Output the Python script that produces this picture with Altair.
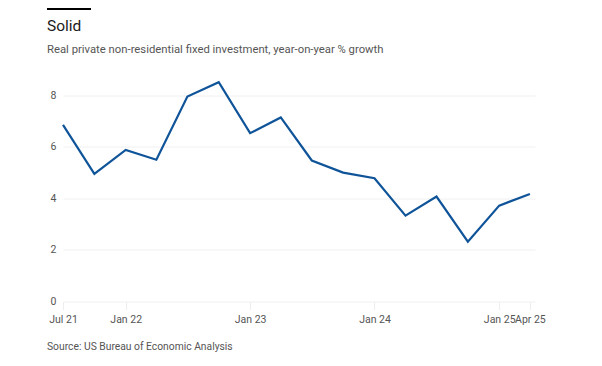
import altair as alt
import pandas as pd

# Quarterly data: Jul 21 .. Apr 25
dates = ["2021-07-01", "2021-10-01", "2022-01-01", "2022-04-01", "2022-07-01", "2022-10-01",
         "2023-01-01", "2023-04-01", "2023-07-01", "2023-10-01", "2024-01-01", "2024-04-01",
         "2024-07-01", "2024-10-01", "2025-01-01", "2025-04-01"]
growth = [6.85, 4.95, 5.88, 5.50, 7.95, 8.51, 6.53, 7.14, 5.47, 5.00, 4.78, 3.33,
          4.07, 2.32, 3.72, 4.17]
y_ticks = [0, 2, 4, 6, 8]
x_tick_dates = [(2021, 7), (2022, 1), (2023, 1), (2024, 1), (2025, 1), (2025, 4)]

title_text = "Solid"
subtitle_text = "Real private non-residential fixed investment, year-on-year % growth"
source_text = "Source: US Bureau of Economic Analysis"

df = pd.DataFrame({"date": dates, "growth": growth})
one = pd.DataFrame({"k": [0]})

FONT = "Roboto"
W, H = 472, 232

x_enc = alt.X(
    "date:T",
    scale=alt.Scale(type="utc", domain=[alt.DateTime(year=2021, month=7, date=1, utc=True),
                                        alt.DateTime(year=2025, month=4, date=16, utc=True)]),
    axis=alt.Axis(
        values=[alt.DateTime(year=y, month=m, date=1, utc=True) for y, m in x_tick_dates],
        labelExpr="utcFormat(datum.value, '%b %y')",
        title=None, domain=False, grid=False, ticks=True, tickSize=8,
        tickColor="#eeeeee", labelColor="#555555", labelFontSize=10.5, labelFont=FONT,
        labelPadding=5, labelOverlap=False, labelFlush=False,
    ),
)
y_enc = alt.Y(
    "growth:Q",
    scale=alt.Scale(domain=[0, 9], nice=False),
    axis=alt.Axis(
        values=y_ticks, title=None, domain=False, ticks=False, grid=True,
        gridColor="#f0f0f0", gridWidth=1, labelColor="#555555", labelFontSize=10.5,
        labelFont=FONT, labelPadding=7,
    ),
)

line = alt.Chart(df).mark_line(color="#0f5499", strokeWidth=2.2).encode(x=x_enc, y=y_enc)

base = alt.Chart(one)

bar = base.mark_rule(color="#000000", strokeWidth=2.7).encode(
    x=alt.value(-16), x2=alt.value(28), y=alt.value(-60.8)
)

title = base.mark_text(
    text=title_text, align="left", baseline="alphabetic", fontSize=15.5, font=FONT, color="#1a1a1a"
).encode(x=alt.value(-16), y=alt.value(-38.8))

subtitle = base.mark_text(
    text=subtitle_text, align="left", baseline="alphabetic", fontSize=11.3, font=FONT, color="#555555"
).encode(x=alt.value(-16), y=alt.value(-16.2))

source = base.mark_text(
    text=source_text, align="left", baseline="alphabetic", fontSize=10.3, font=FONT, color="#555555"
).encode(x=alt.value(-16), y=alt.value(H + 48.5))

chart = alt.layer(line, bar, title, subtitle, source).properties(
    width=W,
    height=H,
    background="white",
    padding={"left": 55, "top": 61.5, "right": 40, "bottom": 54},
    autosize=alt.AutoSizeParams(type="none"),
).configure_view(stroke="transparent", strokeWidth=0)

chart.save("out.html", embed_options={"renderer": "svg", "actions": False})
